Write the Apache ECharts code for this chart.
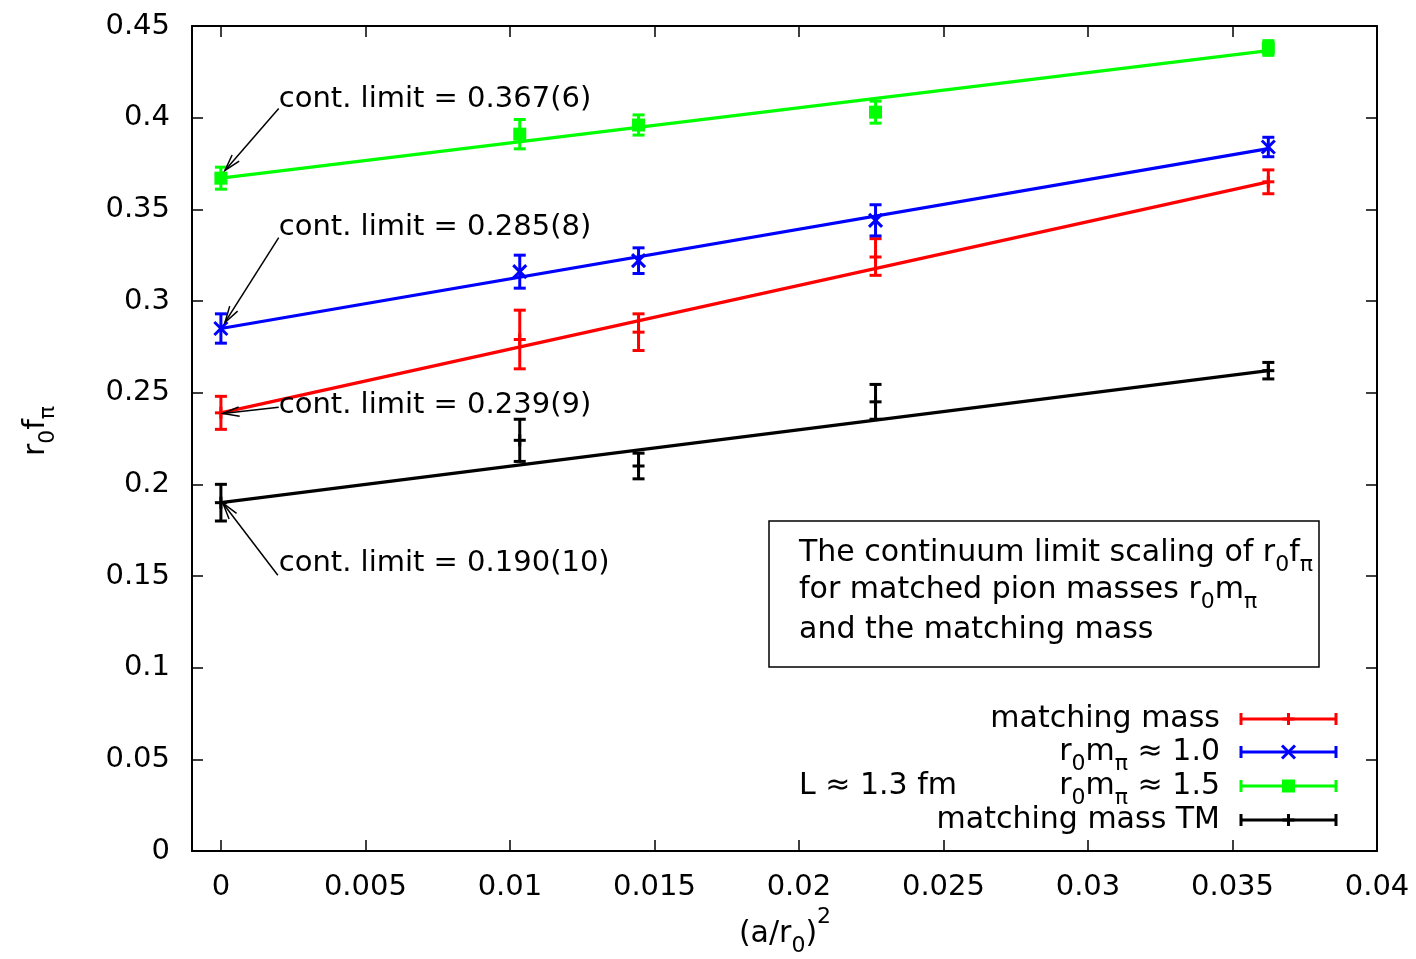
<!DOCTYPE html>
<html>
<head>
<meta charset="utf-8">
<script src="https://cdn.jsdelivr.net/npm/echarts@6/dist/echarts.min.js"></script>
<style>
  html, body { margin: 0; padding: 0; background: #fff; }
  #chart { width: 1416px; height: 959px; }
</style>
</head>
<body>
<div id="chart"></div>
<script>
// (a/r0)^2 of the ensembles; the first entry is the continuum limit
const latticeSpacing2 = [0, 0.01034, 0.01445, 0.02265, 0.03624];

// r0 f_pi with errors, one pair of arrays per data set
const matchingMass      = [0.239, 0.279, 0.283, 0.324, 0.365];
const matchingMassErr   = [0.009, 0.016, 0.010, 0.010, 0.0065];
const pion10            = [0.285, 0.316, 0.322, 0.344, 0.384];
const pion10Err         = [0.008, 0.009, 0.007, 0.0085, 0.0053];
const pion15            = [0.367, 0.391, 0.396, 0.403, 0.438];
const pion15Err         = [0.006, 0.008, 0.0055, 0.006, 0.004];
const matchingMassTM    = [0.190, 0.224, 0.210, 0.245, 0.262];
const matchingMassTMErr = [0.010, 0.0115, 0.007, 0.0095, 0.0045];

// linear continuum fits, [x, y] at both ends
const fitMatchingMass   = [[0, 0.239], [0.03624, 0.365]];
const fitPion10         = [[0, 0.285], [0.03624, 0.3831]];
const fitPion15         = [[0, 0.367], [0.03624, 0.4366]];
const fitMatchingMassTM = [[0, 0.190], [0.03624, 0.262]];

// tick values
const xTicks = [0, 0.005, 0.01, 0.015, 0.02, 0.025, 0.03, 0.035, 0.04];
const yTicks = [0, 0.05, 0.1, 0.15, 0.2, 0.25, 0.3, 0.35, 0.4, 0.45];

// continuum-limit annotations (label anchor and arrow, in data units)
const limitLabels    = ['cont. limit = 0.367(6)', 'cont. limit = 0.285(8)',
                        'cont. limit = 0.239(9)', 'cont. limit = 0.190(10)'];
const limitLabelPos  = [[0.002, 0.410], [0.002, 0.340], [0.002, 0.243], [0.002, 0.157]];
const limitArrowFrom = [[0.002, 0.405], [0.002, 0.3346], [0.002, 0.242], [0.00197, 0.1504]];
const limitArrowTo   = [[0.00014, 0.3712], [0.00014, 0.2883], [0.00007, 0.2387], [0.00007, 0.1897]];

// legend entries and caption text
const legendNames = ['matching mass', 'r_{0}m_{π} ≈ 1.0', 'r_{0}m_{π} ≈ 1.5', 'matching mass TM'];
const captionLines = ['The continuum limit scaling of r_{0}f_{π}',
                      'for matched pion masses r_{0}m_{π}',
                      'and the matching mass'];
const volumeNote = 'L ≈ 1.3 fm';
const xTitle = '(a/r_{0})^{2}';
const yTitle = 'r_{0}f_{π}';

const FONT = 'DejaVu Sans';

// data sets with their drawing style
const dataSets = [
  { name: legendNames[0], y: matchingMass,   err: matchingMassErr,   fit: fitMatchingMass,   color: '#ff0000', marker: 'plus' },
  { name: legendNames[1], y: pion10,         err: pion10Err,         fit: fitPion10,         color: '#0000ff', marker: 'cross' },
  { name: legendNames[2], y: pion15,         err: pion15Err,         fit: fitPion15,         color: '#00ff00', marker: 'square' },
  { name: legendNames[3], y: matchingMassTM, err: matchingMassTMErr, fit: fitMatchingMassTM, color: '#000000', marker: 'plus' }
];

// "_{..}" -> subscript, "^{..}" -> superscript, rest -> main text
function richText(s) {
  const re = /([_^])\{([^}]*)\}/g;
  let out = '', last = 0, m;
  while ((m = re.exec(s))) {
    if (m.index > last) out += '{m|' + s.slice(last, m.index) + '}';
    out += (m[1] === '_' ? '{s|' : '{p|') + m[2] + '}';
    last = re.lastIndex;
  }
  if (last < s.length) out += '{m|' + s.slice(last) + '}';
  return out;
}
// main glyph centre sits 28px below the text element's top
const RICH = {
  m: { fontFamily: FONT, fontSize: 30, lineHeight: 30, padding: [13, 0, 0, 0], verticalAlign: 'top', fill: '#000' },
  s: { fontFamily: FONT, fontSize: 22, lineHeight: 22, padding: [29, 0, 0, 0], verticalAlign: 'top', fill: '#000' },
  p: { fontFamily: FONT, fontSize: 22, lineHeight: 22, padding: [0, 0, 0, 0], verticalAlign: 'top', fill: '#000' }
};
function richLabel(str, x, centerY, align, extra) {
  return Object.assign({
    type: 'text', x: x, y: centerY - 28, silent: true,
    style: { text: richText(str), rich: RICH, align: align, verticalAlign: 'top' }
  }, extra || {});
}

function markerShapes(kind, cx, cy, color) {
  const lw = 3;
  if (kind === 'square') {
    return [{ type: 'rect', shape: { x: cx - 6.5, y: cy - 6.5, width: 13, height: 13 }, style: { fill: color } }];
  }
  if (kind === 'cross') {
    const h = 6.5;
    return [
      { type: 'line', shape: { x1: cx - h, y1: cy - h, x2: cx + h, y2: cy + h }, style: { stroke: color, lineWidth: lw } },
      { type: 'line', shape: { x1: cx - h, y1: cy + h, x2: cx + h, y2: cy - h }, style: { stroke: color, lineWidth: lw } }
    ];
  }
  const h = 6;
  return [
    { type: 'line', shape: { x1: cx - h, y1: cy, x2: cx + h, y2: cy }, style: { stroke: color, lineWidth: lw } },
    { type: 'line', shape: { x1: cx, y1: cy - h, x2: cx, y2: cy + h }, style: { stroke: color, lineWidth: lw } }
  ];
}

function errorBarSeries(ds) {
  return {
    type: 'custom',
    name: ds.name,
    z: 3,
    clip: false,
    silent: true,
    encode: { x: 0, y: 1 },
    data: latticeSpacing2.map((x, i) => [x, ds.y[i], ds.err[i]]),
    renderItem(params, api) {
      const x = api.value(0), y = api.value(1), e = api.value(2);
      const c = api.coord([x, y]);
      const hi = api.coord([x, y + e]);
      const lo = api.coord([x, y - e]);
      const cap = 6, st = { stroke: ds.color, lineWidth: 3 };
      const children = [
        { type: 'line', shape: { x1: c[0], y1: hi[1], x2: c[0], y2: lo[1] }, style: st },
        { type: 'line', shape: { x1: c[0] - cap, y1: hi[1], x2: c[0] + cap, y2: hi[1] }, style: st },
        { type: 'line', shape: { x1: c[0] - cap, y1: lo[1], x2: c[0] + cap, y2: lo[1] }, style: st }
      ].concat(markerShapes(ds.marker, c[0], c[1], ds.color));
      return { type: 'group', children: children };
    }
  };
}

function fitSeries(ds) {
  return {
    type: 'line',
    z: 2,
    silent: true,
    data: ds.fit,
    showSymbol: false,
    symbol: 'none',
    lineStyle: { color: ds.color, width: 3.2 },
    itemStyle: { color: ds.color }
  };
}

const annotationSeries = {
  type: 'custom',
  z: 4,
  clip: false,
  silent: true,
  encode: { x: 0, y: 1 },
  data: limitLabelPos,
  renderItem(params, api) {
    const i = params.dataIndex;
    const p = api.coord(limitLabelPos[i]);
    const a = api.coord(limitArrowFrom[i]);
    const b = api.coord(limitArrowTo[i]);
    const ang = Math.atan2(b[1] - a[1], b[0] - a[0]);
    const L = 17, w = 0.28;
    const h1 = [b[0] - L * Math.cos(ang - w), b[1] - L * Math.sin(ang - w)];
    const h2 = [b[0] - L * Math.cos(ang + w), b[1] - L * Math.sin(ang + w)];
    const st = { stroke: '#000', lineWidth: 1.5, fill: 'none' };
    return {
      type: 'group',
      children: [
        { type: 'line', shape: { x1: a[0], y1: a[1], x2: b[0], y2: b[1] }, style: st },
        { type: 'polyline', shape: { points: [h1, b, h2] }, style: st },
        { type: 'text', x: p[0], y: p[1],
          style: { text: limitLabels[i], fontFamily: FONT, fontSize: 29, fill: '#000', align: 'left', verticalAlign: 'middle' } }
      ]
    };
  }
};

// legend: text right-aligned, sample with end caps and marker
const legendRows = [719, 752, 786, 820];
const legendGraphics = [];
dataSets.forEach((ds, i) => {
  const y = legendRows[i], x1 = 1241, x2 = 1336, cx = (x1 + x2) / 2;
  const st = { stroke: ds.color, lineWidth: 3 };
  legendGraphics.push(richLabel(ds.name, 1220, y, 'right'));
  legendGraphics.push({ type: 'line', silent: true, shape: { x1: x1, y1: y, x2: x2, y2: y }, style: st });
  legendGraphics.push({ type: 'line', silent: true, shape: { x1: x1, y1: y - 6, x2: x1, y2: y + 6 }, style: st });
  legendGraphics.push({ type: 'line', silent: true, shape: { x1: x2, y1: y - 6, x2: x2, y2: y + 6 }, style: st });
  markerShapes(ds.marker, cx, y, ds.color).forEach(g => { g.silent = true; legendGraphics.push(g); });
});

const axisCommon = {
  type: 'value',
  splitLine: { show: false },
  axisLine: { show: true, onZero: false, lineStyle: { color: '#000', width: 2 } }
};

const option = {
  animation: false,
  backgroundColor: '#fff',
  grid: { left: 192, right: 39, top: 26, bottom: 108, containLabel: false, outerBoundsMode: 'none' },
  xAxis: [
    Object.assign({}, axisCommon, {
      position: 'bottom', min: -0.001, max: 0.04,
      axisTick: { show: true, inside: true, length: 11, customValues: xTicks, lineStyle: { color: '#000', width: 1.5 } },
      axisLabel: { show: true, customValues: xTicks, margin: 22, formatter: v => String(v),
                   fontFamily: FONT, fontSize: 29, color: '#000' }
    }),
    Object.assign({}, axisCommon, {
      position: 'top', min: -0.001, max: 0.04,
      axisTick: { show: true, inside: true, length: 11, customValues: xTicks, lineStyle: { color: '#000', width: 1.5 } },
      axisLabel: { show: false }
    })
  ],
  yAxis: [
    Object.assign({}, axisCommon, {
      position: 'left', min: 0, max: 0.45,
      axisTick: { show: true, inside: true, length: 11, customValues: yTicks, lineStyle: { color: '#000', width: 1.5 } },
      axisLabel: { show: true, customValues: yTicks, margin: 22, formatter: v => String(v),
                   fontFamily: FONT, fontSize: 29, color: '#000' }
    }),
    Object.assign({}, axisCommon, {
      position: 'right', min: 0, max: 0.45,
      axisTick: { show: true, inside: true, length: 11, customValues: yTicks, lineStyle: { color: '#000', width: 1.5 } },
      axisLabel: { show: false }
    })
  ],
  series: dataSets.map(fitSeries).concat(dataSets.map(errorBarSeries)).concat([annotationSeries]),
  graphic: [
    // caption box
    { type: 'rect', silent: true, shape: { x: 769, y: 521, width: 550, height: 146 },
      style: { fill: '#fff', stroke: '#000', lineWidth: 1.5 }, z: 10 },
    Object.assign(richLabel(captionLines[0], 799, 553, 'left'), { z: 11 }),
    Object.assign(richLabel(captionLines[1], 799, 590, 'left'), { z: 11 }),
    Object.assign(richLabel(captionLines[2], 799, 630, 'left'), { z: 11 }),
    richLabel(volumeNote, 799, 786, 'left'),
    // axis titles
    richLabel(xTitle, 785, 934, 'center'),
    { type: 'text', x: 8, y: 431, rotation: Math.PI / 2, silent: true,
      style: { text: richText(yTitle), rich: RICH, align: 'center', verticalAlign: 'top' } }
  ].concat(legendGraphics)
};

const chart = echarts.init(document.getElementById('chart'), null, { renderer: 'canvas' });
chart.setOption(option);
</script>
</body>
</html>
